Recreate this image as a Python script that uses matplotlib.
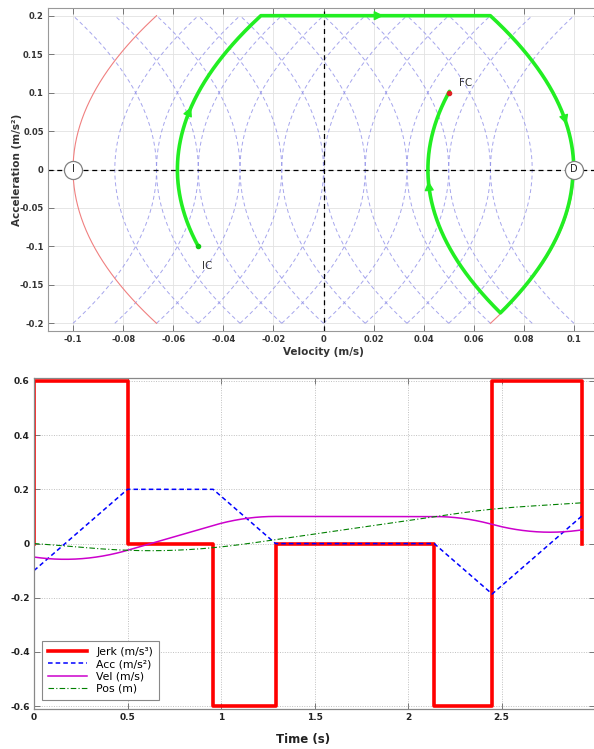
import numpy as np
import matplotlib
matplotlib.use("Agg")
import matplotlib.pyplot as plt

# jerk profile (bang-bang)
switch_times = [0.0, 0.5, 0.958, 1.292, 2.14, 2.45, 2.93]
jerk_levels = [0.6, 0.0, -0.6, 0.0, -0.6, 0.6]
acc0, vel0, pos0 = -0.1, -0.05, 0.0

# phase plane: initial / final condition and switching points
ic_point = (-0.05, -0.1)
fc_point = (0.05, 0.1)
limit_points = {"I": -0.1, "D": 0.1}
jmax = 0.6
amax = 0.2
# vertex velocities of the background parabolas
family_plus = [-5 / 60, -4 / 60, -3 / 60, -2 / 60, -1 / 60, 0.0, 1 / 60, 2 / 60, 3 / 60, 4 / 60]
family_minus = [-4 / 60, -3 / 60, -2 / 60, -1 / 60, 0.0, 1 / 60, 2 / 60, 3 / 60, 4 / 60, 5 / 60]
arrow_times = [0.297, 0.74, 1.19, 2.73]

green = "#22ee22"


def integrate(t_sw, jerk, a0, v0, p0, n=300):
    """piecewise constant jerk -> acc, vel, pos"""
    T, A, V, P = [], [], [], []
    for k, j in enumerate(jerk):
        t = np.linspace(t_sw[k], t_sw[k + 1], n)
        dt = t - t_sw[k]
        a = a0 + j * dt
        v = v0 + a0 * dt + j * dt ** 2 / 2
        p = p0 + v0 * dt + a0 * dt ** 2 / 2 + j * dt ** 3 / 6
        T.append(t); A.append(a); V.append(v); P.append(p)
        a0, v0, p0 = a[-1], v[-1], p[-1]
    return np.concatenate(T), np.concatenate(A), np.concatenate(V), np.concatenate(P)


t, acc, vel, pos = integrate(switch_times, jerk_levels, acc0, vel0, pos0)

fig = plt.figure(figsize=(5.94, 7.49), dpi=100)
plt.rcParams["font.family"] = ["DejaVu Sans"]

# ---------------- phase plane ----------------
ax1 = fig.add_axes([48 / 594, 1 - 331 / 749, 551 / 594, 323 / 749])
a_grid = np.linspace(-amax, amax, 200)
for v0 in family_plus:
    ax1.plot(v0 + a_grid ** 2 / (2 * jmax), a_grid, ls=(0, (4, 3)), color="#8f8fe8", lw=0.7, alpha=0.8)
for v0 in family_minus:
    ax1.plot(v0 - a_grid ** 2 / (2 * jmax), a_grid, ls=(0, (4, 3)), color="#8f8fe8", lw=0.7, alpha=0.8)

# limit curves
ax1.plot(limit_points["I"] + a_grid ** 2 / (2 * jmax), a_grid, color="#f08080", lw=0.8)
ax1.plot(limit_points["D"] - a_grid ** 2 / (2 * jmax), a_grid, color="#f08080", lw=0.8)

ax1.axhline(0, color="black", ls=(0, (4, 3)), lw=0.9)
ax1.axvline(0, color="black", ls=(0, (4, 3)), lw=0.9)

# trajectory
ax1.plot(vel, acc, color=green, lw=2.6, solid_capstyle="round")
for ta in arrow_times:
    i = np.searchsorted(t, ta)
    ax1.annotate("", xy=(vel[i + 3], acc[i + 3]), xytext=(vel[i - 3], acc[i - 3]),
                 arrowprops=dict(arrowstyle="-|>", color=green, lw=1, mutation_scale=14))
ax1.plot(*ic_point, "o", color="#11cc11", ms=3)
ax1.plot(*fc_point, "o", color="#dd2222", ms=3)
ax1.text(ic_point[0] + 0.0037, ic_point[1] - 0.026, "IC", fontsize=7.5, color="#333333",
         ha="center", va="center")
ax1.text(fc_point[0] + 0.0067, fc_point[1] + 0.013, "FC", fontsize=7.5, color="#333333",
         ha="center", va="center")
for name, v in limit_points.items():
    ax1.plot(v, 0, "o", ms=13, mfc="white", mec="#808080", mew=0.9, zorder=5)
    ax1.text(v, 0, name, fontsize=7, ha="center", va="center", zorder=6, color="#222222")

ax1.set_xlim(-0.11, 0.11)
ax1.set_ylim(-0.21, 0.21)
ax1.set_xticks(np.arange(-0.1, 0.101, 0.02))
ax1.set_xticklabels(["-0.1", "-0.08", "-0.06", "-0.04", "-0.02", "0", "0.02", "0.04", "0.06", "0.08", "0.1"])
ax1.set_yticks(np.arange(-0.2, 0.201, 0.05))
ax1.set_yticklabels(["-0.2", "-0.15", "-0.1", "-0.05", "0", "0.05", "0.1", "0.15", "0.2"])
ax1.grid(True, color="#e2e2e2", lw=0.6)
ax1.set_axisbelow(True)
ax1.tick_params(direction="in", top=True, right=True, length=4, width=0.6, color="#666666",
                labelsize=6, pad=3)
for lab in ax1.get_xticklabels() + ax1.get_yticklabels():
    lab.set_fontweight("bold")
    lab.set_color("#333333")
for sp in ax1.spines.values():
    sp.set_color("#999999")
    sp.set_linewidth(0.8)
ax1.set_xlabel("Velocity (m/s)", fontsize=7.5, fontweight="bold", color="#333333")
ax1.xaxis.set_label_coords(0.5, -0.05)
ax1.set_ylabel("Acceleration (m/s²)", fontsize=7.5, fontweight="bold", color="#333333")
ax1.yaxis.set_label_coords(-0.048, 0.5)

# ---------------- time plot ----------------
ax2 = fig.add_axes([34 / 594, 1 - 709 / 749, 561 / 594, 331 / 749])
jt = [switch_times[0]] + list(switch_times)
jv = [0.0] + list(jerk_levels) + [0.0]
ax2.step(jt, jv, where="post", color="#ff0000", lw=2.6, label="Jerk (m/s³)")
ax2.plot(t, acc, color="#0000ff", ls=(0, (3, 2)), lw=1.1, label="Acc (m/s²)")
ax2.plot(t, vel, color="#cc00cc", lw=1.1, label="Vel (m/s)")
ax2.plot(t, pos, color="#008000", ls=(0, (5, 2, 1, 2)), lw=0.8, label="Pos (m)")

ax2.set_xlim(0, 3)
ax2.set_ylim(-0.611, 0.611)
ax2.set_xticks([0, 0.5, 1, 1.5, 2, 2.5])
ax2.set_xticklabels(["0", "0.5", "1", "1.5", "2", "2.5"])
ax2.set_yticks([-0.6, -0.4, -0.2, 0, 0.2, 0.4, 0.6])
ax2.set_yticklabels(["-0.6", "-0.4", "-0.2", "0", "0.2", "0.4", "0.6"])
ax2.grid(True, color="#c0c0c0", ls=(0, (1, 1.5)), lw=0.7)
ax2.set_axisbelow(True)
ax2.tick_params(direction="in", top=True, right=True, length=4, width=0.7, color="#777777",
                labelsize=6.5, pad=3)
for lab in ax2.get_xticklabels() + ax2.get_yticklabels():
    lab.set_fontweight("bold")
    lab.set_color("#222222")
for sp in ax2.spines.values():
    sp.set_color("#888888")
    sp.set_linewidth(0.9)
ax2.set_xlabel("Time (s)", fontsize=8.5, fontweight="bold", color="#222222")
ax2.xaxis.set_label_coords(0.48, -0.072)

leg = ax2.legend(loc="lower left", bbox_to_anchor=(0.014, 0.027), borderaxespad=0,
                 fontsize=7.8, handlelength=3.6, fancybox=False, framealpha=1,
                 edgecolor="#888888", labelspacing=0.2, borderpad=0.6)
leg.get_frame().set_linewidth(0.8)

fig.savefig("out.png", dpi=100)
